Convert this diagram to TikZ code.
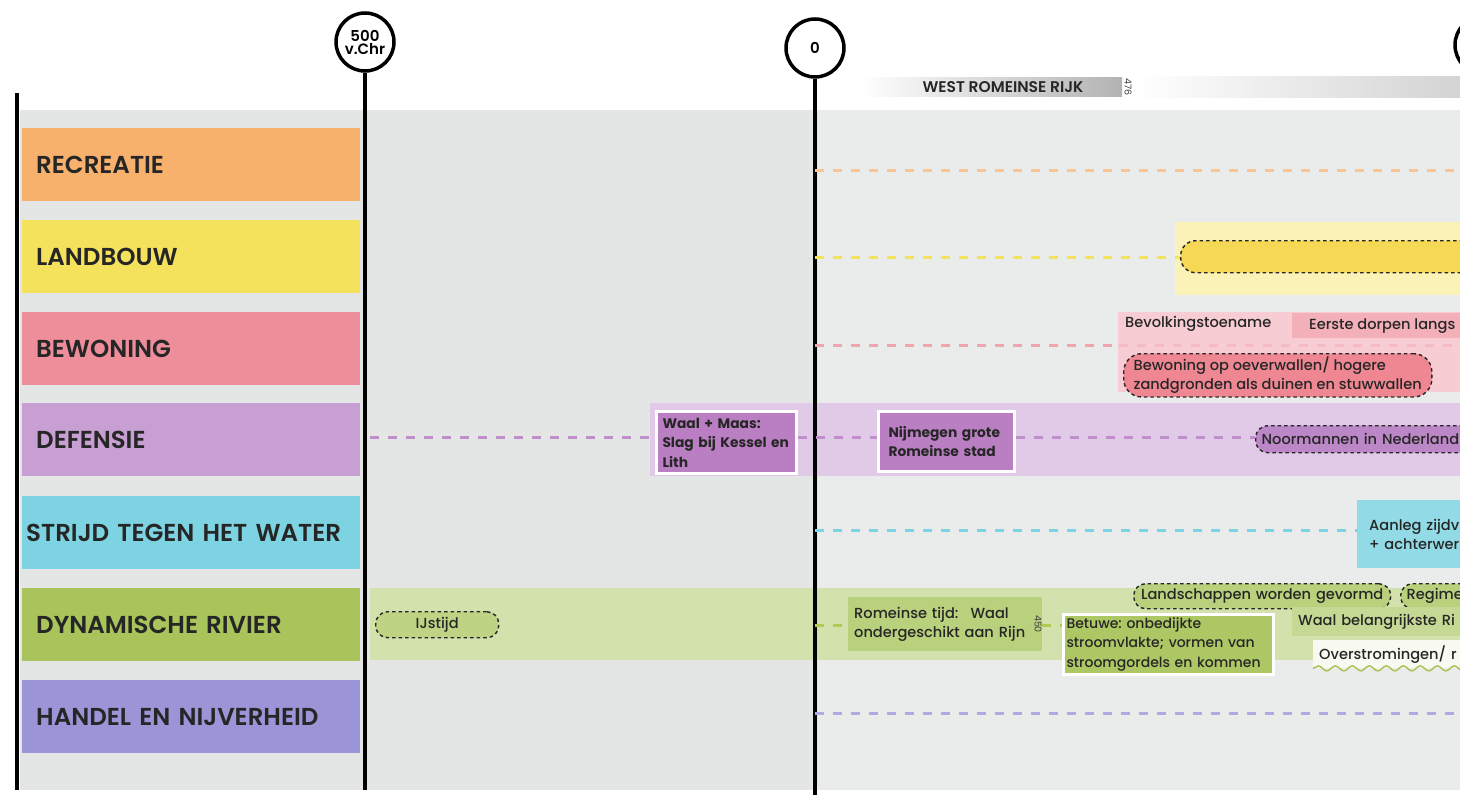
\documentclass[tikz,border=0pt]{standalone}
\usepackage{fontspec}
\setmainfont{Poppins}
\newfontfamily\medfont{Poppins Medium}
\newfontfamily\semifont{Poppins SemiBold}
\usetikzlibrary{decorations.pathmorphing}
\frenchspacing

\definecolor{bgL}{HTML}{E3E6E5}
\definecolor{bgR}{HTML}{EAECEB}
\definecolor{recrC}{HTML}{F8B16D}
\definecolor{landC}{HTML}{F4E25C}
\definecolor{bewC}{HTML}{EE8E9B}
\definecolor{defC}{HTML}{C79FD3}
\definecolor{strC}{HTML}{7ED3E2}
\definecolor{rivC}{HTML}{A8C45B}
\definecolor{hanC}{HTML}{9B95D7}

\newcommand{\catfont}{\semifont\fontsize{24.5}{28}\selectfont}
\newcommand{\evfont}{\medfont\fontsize{14.6}{19.5}\selectfont}
\newcommand{\evbfont}{\bfseries\fontsize{13.8}{19.5}\selectfont}
\newcommand{\circfont}{\semifont\fontsize{15}{16}\selectfont}

\begin{document}
\begin{tikzpicture}[x=1pt,y=-1pt,
catbox/.style={anchor=north west,text width=310pt,minimum height=73pt,inner xsep=14pt,align=left,font=\catfont,text=black!85},
evbox/.style={anchor=north west,align=left,inner xsep=6pt,inner ysep=3pt,font=\evfont,text=black!85},
dashbox/.style={evbox,draw=black!85,line width=1.4pt,dash pattern=on 3.5pt off 3pt,rounded corners=12pt},
rowline/.style={line width=3pt,dash pattern=on 9pt off 9pt},
yearcirc/.style={circle,draw,line width=3.5pt,minimum size=58pt,fill=white,inner sep=0pt,align=center,font=\circfont},
timeline/.style={line width=4pt}]
\useasboundingbox (0,0) rectangle (1460,795);
\clip (0,0) rectangle (1460,795);

% achtergrond
\fill[white] (0,0) rectangle (1460,795);
\fill[bgL] (20,110) rectangle (1460,790);
\fill[bgR] (818,110) rectangle (1460,790);

% rijken
\shade[left color=white,right color=black!30] (860,77) rectangle (1122,96);
\node[anchor=west,font=\semifont\fontsize{15.5}{17}\selectfont,text=black!85] (wrr) at (919,87) {WEST ROMEINSE RIJK};
\node[rotate=-90,font=\fontsize{9.5}{10}\selectfont,text=black!75] (y476) at (1128,87) {476};
\shade[left color=white,right color=black!17] (1135,76) rectangle (1460,97);

% banden
\fill[landC!45] (1175,222) rectangle (1460,295);
\fill[bewC!45] (1118,312) rectangle (1460,392);
\fill[defC!55] (650,403) rectangle (1460,476);
\fill[rivC!50] (370,588) rectangle (1460,660);

% tijdlijnen
\coordinate (s0) at (17,93);
\coordinate (e0) at (17,790);
\coordinate (e500) at (365,790);
\coordinate (e1) at (815,795);
\node[yearcirc] (c500) at (365,42) {500\\[-3pt]v.Chr};
\node[yearcirc] (c0) at (815,48) {0};
\node[yearcirc] (c1) at (1484,45) {};
\draw[timeline] (s0) -- (e0);
\draw[timeline] (c500) -- (e500);
\draw[timeline] (c0) -- (e1);

% thema's
\node[catbox,fill=recrC] (recr) at (22,128) {RECREATIE};
\node[catbox,fill=landC] (land) at (22,220) {LANDBOUW};
\node[catbox,fill=bewC] (bew) at (22,312) {BEWONING};
\node[catbox,fill=defC] (def) at (22,403) {DEFENSIE};
\node[catbox,fill=strC,inner xsep=4pt,text width=330pt] (str) at (22,496) {STRIJD TEGEN HET WATER};
\node[catbox,fill=rivC] (riv) at (22,588) {DYNAMISCHE RIVIER};
\node[catbox,fill=hanC] (han) at (22,680) {HANDEL EN NIJVERHEID};

% gebeurtenissen
\node[dashbox,fill=landC!90!orange,minimum width=330pt,minimum height=32pt,rounded corners=15pt] (landbox) at (1180,240) {};
\node[evbox] (bevolk) at (1119,313) {Bevolkingstoename};
\node[evbox,fill=bewC!70,minimum width=180pt,minimum height=25pt] (dorpen) at (1292,313) {Eerste dorpen langs};
\node[dashbox,fill=bewC!95!red,rounded corners=18pt,inner xsep=10pt] (oever) at (1123,353) {Bewoning op oeverwallen/ hogere\\zandgronden als duinen en stuwwallen};
\node[evbox,font=\evbfont,fill=defC!80!violet,draw=white,line width=3pt,text width=128pt,minimum height=62pt] (waalmaas) at (655,410) {Waal + Maas:\\Slag bij Kessel en\\Lith};
\node[evbox,font=\evbfont,fill=defC!80!violet,draw=white,line width=3pt,text width=116pt,inner xsep=10pt,minimum height=60pt] (nijm) at (877,410) {Nijmegen grote\\Romeinse stad};
\node[dashbox,fill=defC!85!violet,minimum height=27pt,text width=240pt] (noorm) at (1255,425) {Noormannen in Nederland};
\node[evbox,fill=strC!85,minimum height=68pt,text width=120pt,inner xsep=12pt] (aanleg) at (1357,500) {Aanleg zijdv\\+ achterwer};
\node[dashbox,fill=rivC!75,align=center,text width=111pt,minimum height=26pt] (ijstijd) at (375,611) {IJstijd};
\node[evbox,fill=rivC!80,text width=182pt,minimum height=54pt] (romeins) at (848,597) {Romeinse tijd:\hspace{12pt}Waal\\ondergeschikt aan Rijn};
\node[rotate=-90,font=\fontsize{9.5}{10}\selectfont,text=black!75] (y450) at (1038,624) {450};
\node[evbox,font=\medfont\fontsize{14}{19.5}\selectfont,fill=rivC!95,draw=white,line width=3pt,text width=204pt,inner xsep=3pt,minimum height=60pt] (betuwe) at (1062,613) {Betuwe: onbedijkte\\stroomvlakte; vormen van\\stroomgordels en kommen};
\node[dashbox,fill=rivC!80,align=center,text width=245pt,minimum height=25pt] (landsch) at (1133,583) {Landschappen worden gevormd};
\node[dashbox,fill=rivC!80,text width=100pt,minimum height=25pt] (regime) at (1400,583) {Regime};
\node[evbox,fill=rivC!65,text width=180pt,minimum height=29pt] (waalbel) at (1292,607) {Waal belangrijkste Ri};
\node[evbox,fill=white!92!rivC,text width=160pt,minimum height=28pt] (overstr) at (1313,640) {Overstromingen/ r};
\draw[rivC,line width=1.5pt,decorate,decoration={snake,amplitude=2.5pt,segment length=17pt}] (overstr.south west) -- (overstr.south east);

% stippellijnen
\coordinate (r1) at (815,170);
\coordinate (r1e) at (1460,170);
\coordinate (l1) at (815,257);
\coordinate (b1) at (815,345);
\coordinate (b1e) at (1460,345);
\coordinate (d1) at (370,437);
\coordinate (s1) at (815,530);
\coordinate (v1) at (815,625);
\coordinate (h1) at (815,713);
\coordinate (h1e) at (1460,713);
\draw[rowline,recrC!75] (r1) -- (r1e);
\draw[rowline,landC] (l1) -- (landbox.west |- l1);
\draw[rowline,bewC!80] (b1) -- (bevolk.south west |- b1);
\draw[rowline,bewC!60] (bevolk.south west |- b1) -- (b1e);
\draw[rowline,defC!90!violet] (d1) -- (waalmaas.west |- d1);
\draw[rowline,defC!90!violet] (waalmaas.east |- d1) -- (nijm.west |- d1);
\draw[rowline,defC!90!violet] (nijm.east |- d1) -- (noorm.west |- d1);
\draw[rowline,strC] (s1) -- (aanleg.west |- s1);
\draw[rowline,rivC!90!yellow] (v1) -- (romeins.west |- v1);
\draw[rowline,rivC!90!yellow] (romeins.east |- v1) -- (betuwe.west |- v1);
\draw[rowline,hanC!80] (h1) -- (h1e);
\end{tikzpicture}
\end{document}
